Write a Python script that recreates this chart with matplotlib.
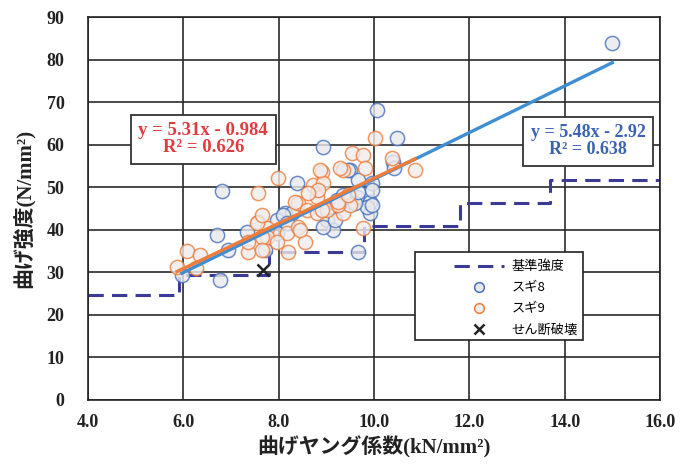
import numpy as np
import matplotlib
matplotlib.use("Agg")
import matplotlib.pyplot as plt
from matplotlib.lines import Line2D
from matplotlib.patches import Rectangle

plt.rcParams['font.family'] = ['Liberation Serif', 'Noto Sans CJK JP']

# 基準強度 (machine-graded sugi): E-class boundaries and bending strength
std_x = [4.0, 5.9, 5.9, 7.8, 7.8, 9.8, 9.8, 11.8, 11.8, 13.7, 13.7, 16.0]
std_y = [24.6, 24.6, 29.4, 29.4, 34.8, 34.8, 40.8, 40.8, 46.2, 46.2, 51.6, 51.6]

# スギ8 (E, Fb)
sugi8_e = [15.0, 10.06, 10.48, 8.93, 6.81, 8.38, 9.50, 9.66, 9.96, 10.40,
           10.42, 9.22, 9.43, 9.64, 9.92, 9.92, 9.85, 9.96, 8.13, 7.96,
           9.01, 9.14, 8.93, 7.34, 6.71, 6.94, 7.71, 9.66, 5.97, 6.77,
           7.96, 8.28, 8.09, 8.17, 9.18, 9.22, 9.35, 9.45, 9.60, 9.96,
           9.66]
sugi8_fb = [84.0, 68.1, 61.5, 59.4, 49.0, 50.9, 54.0, 51.6, 50.9, 55.9,
            54.5, 46.9, 47.7, 47.7, 46.5, 43.9, 45.3, 49.3, 43.9, 42.3,
            42.3, 39.9, 40.6, 39.4, 38.7, 35.2, 35.2, 34.7, 29.3, 28.2,
            39.2, 43.9, 43.4, 41.5, 42.3, 45.8, 48.1, 54.0, 46.2, 45.8,
            48.8]

# スギ9 (E, Fb)
sugi9_e = [5.87, 6.08, 6.35, 6.27, 7.36, 7.57, 7.99, 7.57, 8.41, 8.17,
           8.55, 8.20, 8.80, 8.72, 8.91, 8.93, 8.82, 9.35, 9.54, 9.77,
           9.81, 10.02, 10.38, 10.86, 9.77, 9.35, 9.50, 7.76, 7.55, 7.76,
           7.36, 7.96, 8.41, 8.59, 8.80, 9.01, 8.34, 8.62, 8.87, 7.65,
           7.65, 7.65, 8.91, 8.45, 9.24, 9.24, 9.45, 9.29]
sugi9_fb = [31.2, 35.0, 34.0, 31.0, 34.7, 48.6, 52.1, 41.8, 46.2, 39.2,
            37.1, 34.7, 47.7, 50.5, 53.5, 50.9, 49.3, 54.0, 58.0, 57.5,
            54.5, 61.5, 56.8, 54.0, 40.4, 43.9, 45.8, 40.4, 41.5, 38.3,
            37.1, 37.1, 40.6, 44.6, 43.9, 44.6, 46.5, 48.6, 54.0, 43.4,
            38.3, 35.2, 44.6, 39.9, 45.8, 46.5, 48.1, 54.5]

# せん断破壊
shear_e = [7.67]
shear_fb = [30.5]

# linear trend lines: slope, intercept
fit8 = (5.48, -2.92)
fit9 = (5.31, -0.984)
r2_8 = 0.638
r2_9 = 0.626

c_blue_mk = '#4470bf'
c_blue_ln = '#3f8ed4'
c_orange = '#ee7d3b'
c_dash = '#3c3a98'
c_red_txt = '#e23b3f'
c_blue_txt = '#3a63b2'
c_ink = '#222222'
dash = (0, (5, 2.7))

fig = plt.figure(figsize=(6.95, 4.67), dpi=100)
ax = fig.add_axes([0.1266, 0.1435, 0.823, 0.820])

ax.set_xlim(4.0, 16.0)
ax.set_ylim(0, 90)
xt = np.arange(4.0, 16.01, 2.0)
ax.set_xticks(xt)
ax.set_yticks(np.arange(0, 91, 10))
ax.set_xticklabels([f"{v:.1f}" for v in xt])
ax.tick_params(length=0, labelsize=13)
ax.tick_params(axis='x', pad=10)
ax.tick_params(axis='y', pad=17)
for lab in ax.get_xticklabels() + ax.get_yticklabels():
    lab.set_fontweight('bold')
    lab.set_color(c_ink)
ax.grid(True, color='#2a2a2a', linewidth=1.2)
ax.set_axisbelow(True)
for sp in ax.spines.values():
    sp.set_color(c_ink)
    sp.set_linewidth(1.2)

ax.plot(std_x, std_y, color=c_dash, linestyle=dash, linewidth=2.2, zorder=2)

ax.scatter(sugi8_e, sugi8_fb, s=105, facecolor='#e9e9ec', edgecolor=c_blue_mk,
           linewidth=1.1, alpha=0.8, zorder=3)
ax.scatter(sugi9_e, sugi9_fb, s=105, facecolor='#efeceb', edgecolor=c_orange,
           linewidth=1.1, alpha=0.8, zorder=3)
ax.scatter(shear_e, shear_fb, s=75, marker='x', color=c_ink,
           linewidth=1.8, zorder=4)

x8 = np.linspace(min(sugi8_e), max(sugi8_e), 50)
ax.plot(x8, fit8[0] * x8 + fit8[1], color=c_blue_ln, linewidth=2.4, zorder=5)
x9 = np.linspace(min(sugi9_e), max(sugi9_e), 50)
ax.plot(x9, fit9[0] * x9 + fit9[1], color=c_orange, linewidth=2.4, zorder=6)

box = dict(boxstyle='square,pad=0.4', facecolor='white', edgecolor='#333333',
           linewidth=1.3)
ax.text(6.42, 61.3, f"y = {fit9[0]:.2f}x - {abs(fit9[1]):.3f}\nR² = {r2_9:.3f}",
        ha='center', va='center', fontsize=13.5, fontweight='bold',
        color=c_red_txt, linespacing=1.0, bbox=box, zorder=7)
ax.text(14.49, 60.8, f"y = {fit8[0]:.2f}x - {abs(fit8[1]):.2f}\nR² = {r2_8:.3f}",
        ha='center', va='center', fontsize=13, fontweight='bold',
        color=c_blue_txt, linespacing=1.0, bbox=box, zorder=7)

# legend: frame drawn separately, entries placed inside it
ax.add_patch(Rectangle((0.572, 0.157), 0.293, 0.229, transform=ax.transAxes,
                       facecolor='white', edgecolor=c_ink, linewidth=1.2,
                       zorder=8))
handles = [
    Line2D([], [], color=c_dash, linestyle=dash, linewidth=2.2),
    Line2D([], [], linestyle='none', marker='o', markersize=7,
           markerfacecolor='#e9e9ec', markeredgecolor=c_blue_mk,
           markeredgewidth=1.1),
    Line2D([], [], linestyle='none', marker='o', markersize=7,
           markerfacecolor='#efeceb', markeredgecolor=c_orange,
           markeredgewidth=1.1),
    Line2D([], [], linestyle='none', marker='x', markersize=7,
           color=c_ink, markeredgewidth=1.8),
]
labels = ['基準強度', 'スギ8', 'スギ9', 'せん断破壊']
leg = ax.legend(handles, labels, loc='upper left',
                bbox_to_anchor=(0.628, 0.382), frameon=False, borderpad=0,
                handlelength=3.8, handletextpad=0.55, labelspacing=0.62,
                prop={'family': ['Noto Sans CJK JP'], 'size': 9.5})
leg.set_zorder(9)

ax.set_xlabel('曲げヤング係数(kN/mm²)', fontsize=15, fontweight='bold',
              color=c_ink)
ax.set_ylabel('曲げ強度(N/mm²)', fontsize=15, fontweight='bold', color=c_ink)
ax.xaxis.set_label_coords(0.5, -0.095)
ax.yaxis.set_label_coords(-0.094, 0.5)

fig.savefig('out.png', dpi=100)
